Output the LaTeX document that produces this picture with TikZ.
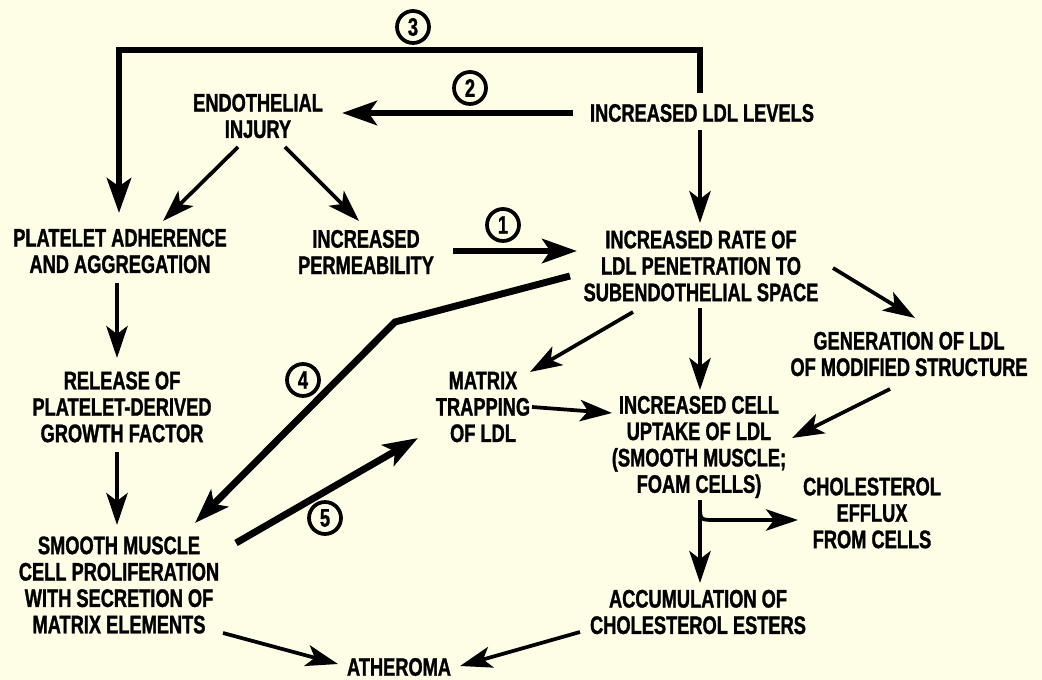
\documentclass[tikz,border=0pt]{standalone}
\usepackage{fontspec}
\newfontfamily\diafont{Liberation Sans}[FakeStretch=0.72,FakeBold=1.2]
\usetikzlibrary{arrows.meta,calc}
\definecolor{bgc}{RGB}{254,253,230}
\begin{document}
\begin{tikzpicture}[x=0.75pt,y=-0.75pt,
  lbl/.style={font=\diafont\bfseries\fontsize{19}{19.8}\selectfont, align=center, inner sep=0pt},
  num/.style={circle, draw, line width=2.8pt, minimum size=24pt, inner sep=0pt, font=\diafont\bfseries\fontsize{19}{19}\selectfont},
  thinarr/.style={line width=2.8pt, -{Stealth[length=24pt,width=16pt,inset=6pt]}},
  thickarr/.style={line width=5.2pt, -{Stealth[length=26pt,width=18pt,inset=6pt]}}]
\fill[bgc] (0,0) rectangle (1042,680);
\useasboundingbox (0,0) rectangle (1042,680);
\node[lbl] (endo) at (258,116) {ENDOTHELIAL\\INJURY};
\node[lbl] (ldl) at (702,113) {INCREASED LDL LEVELS};
\node[lbl] (plat) at (120,251) {PLATELET ADHERENCE\\AND AGGREGATION};
\node[lbl] (perm) at (366,252) {INCREASED\\PERMEABILITY};
\node[lbl] (rate) at (701,266) {INCREASED RATE OF\\LDL PENETRATION TO\\SUBENDOTHELIAL SPACE};
\node[lbl] (gen) at (909,354) {GENERATION OF LDL\\OF MODIFIED STRUCTURE};
\node[lbl] (release) at (122,407) {RELEASE OF\\PLATELET-DERIVED\\GROWTH FACTOR};
\node[lbl] (matrix) at (483,407) {MATRIX\\TRAPPING\\OF LDL};
\node[lbl] (cell) at (699,447) {INCREASED CELL\\UPTAKE OF LDL\\(SMOOTH MUSCLE;\\FOAM CELLS)};
\node[lbl] (smc) at (119,585) {SMOOTH MUSCLE\\CELL PROLIFERATION\\WITH SECRETION OF\\MATRIX ELEMENTS};
\node[lbl] (chol) at (872,513) {CHOLESTEROL\\EFFLUX\\FROM CELLS};
\node[lbl] (accum) at (698,612) {ACCUMULATION OF\\CHOLESTEROL ESTERS};
\node[lbl] (ath) at (399,667) {ATHEROMA};
\node[num] (n3) at (413,27) {3};
\node[num] (n2) at (470,88) {2};
\node[num] (n1) at (503,225) {1};
\node[num] (n4) at (303,380) {4};
\node[num] (n5) at (325,518) {5};
\draw[thickarr] ($(ldl)+(-2,-20)$) -- ($(ldl)+(-2,-63)$) -| ($(plat)+(-1,-38)$);
\draw[thickarr] ($(ldl)+(-129,0)$) -- ($(endo)+(84,-3)$);
\draw[thinarr] ($(endo)+(-20,31)$) -- ($(plat)+(43,-30)$);
\draw[thinarr] ($(endo)+(27,31)$) -- ($(perm)+(-7,-31)$);
\draw[thinarr] ($(ldl)+(-2,17)$) -- ($(rate)+(-1,-43)$);
\draw[thickarr] ($(perm)+(87,-1)$) -- ($(rate)+(-124,-15)$);
\coordinate (bend4) at (395,322);
\draw[thickarr] ($(rate)+(-131,10)$) -- (bend4) -- ($(smc)+(76,-62)$);
\draw[thinarr] ($(rate)+(132,2)$) -- ($(gen)+(6,-36)$);
\draw[thinarr] ($(rate)+(-68,46)$) -- ($(matrix)+(47,-35)$);
\draw[thinarr] ($(rate)+(-1,42)$) -- ($(cell)+(1,-57)$);
\draw[thinarr] ($(plat)+(-3,32)$) -- ($(release)+(-5,-49)$);
\draw[thinarr] ($(release)+(-5,45)$) -- ($(smc)+(-2,-60)$);
\draw[thickarr] ($(smc)+(117,-42)$) -- ($(matrix)+(-65,31)$);
\draw[thinarr] ($(matrix)+(49,0)$) -- ($(cell)+(-87,-34)$);
\draw[thinarr] ($(gen)+(-19,35)$) -- ($(cell)+(93,-9)$);
\draw[thinarr] ($(cell)+(1,53)$) -- ($(accum)+(2,-29)$);
\draw[thinarr] ($(cell)+(1,58)$) .. controls ($(cell)+(1,73)$) .. ($(cell)+(16,73)$) -- ($(chol)+(-74,7)$);
\draw[thinarr] ($(smc)+(104,48)$) -- ($(ath)+(-61,-3)$);
\draw[thinarr] ($(accum)+(-118,20)$) -- ($(ath)+(61,-1)$);
\end{tikzpicture}
\end{document}
